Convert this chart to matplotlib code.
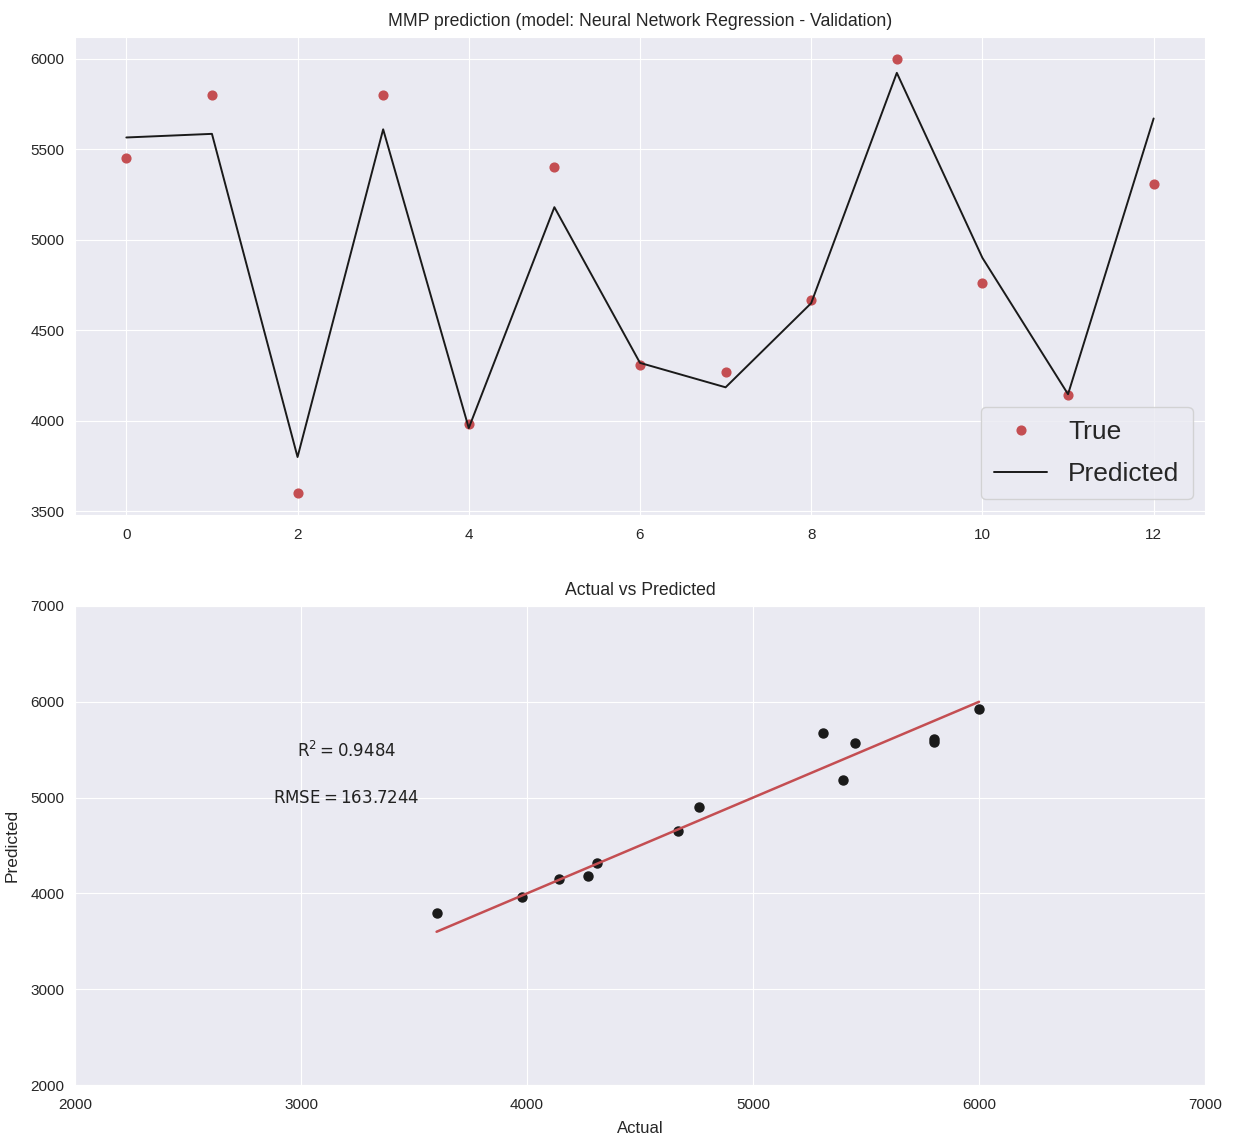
import numpy as np
import matplotlib
matplotlib.use("Agg")
import matplotlib.pyplot as plt
import seaborn as sns

# =========================
# DATOS
# =========================

sample_idx = list(range(13))
true_mmp = [5450, 5800, 3600, 5800, 3980, 5400, 4310, 4270, 4670, 6000, 4760, 4140, 5310]
pred_mmp = [5565, 5585, 3800, 5610, 3960, 5180, 4320, 4185, 4650, 5922, 4900, 4147, 5670]

r2_text = r"$\mathrm{R^2 = 0.9484}$"
rmse_text = r"$\mathrm{RMSE = 163.7244}$"

# =========================
# ESTILO
# =========================

sns.set_style("darkgrid")
plt.rcParams["font.family"] = ["Liberation Sans", "DejaVu Sans"]
plt.rcParams["xtick.labelsize"] = 11
plt.rcParams["ytick.labelsize"] = 11
plt.rcParams["xtick.major.pad"] = 6
plt.rcParams["ytick.major.pad"] = 4
red = (0.769, 0.306, 0.322)
black = (0.1, 0.1, 0.1)

fig = plt.figure(figsize=(12.33, 11.35), dpi=100)
ax1 = fig.add_axes([0.0608, 0.5463, 0.9165, 0.4211])
ax2 = fig.add_axes([0.0608, 0.0440, 0.9165, 0.4221])

# =========================
# SERIE
# =========================

ax1.plot(sample_idx, true_mmp, "o", color=red, markersize=6.3, label="True")
ax1.plot(sample_idx, pred_mmp, "-", color=black, linewidth=1.4, label="Predicted")
ax1.set_title("MMP prediction (model: Neural Network Regression - Validation)",
              fontsize=12.7, pad=8)
ax1.set_yticks([3500, 4000, 4500, 5000, 5500, 6000])
ax1.legend(loc="lower right", bbox_to_anchor=(1.003, 0.0), fontsize=19,
           frameon=True, borderpad=0.5, labelspacing=0.68, borderaxespad=0.6)

# =========================
# ACTUAL VS PREDICHO
# =========================

ax2.plot(true_mmp, pred_mmp, "o", color=black, markersize=6.5)
lo, hi = min(true_mmp), max(true_mmp)
ax2.plot([lo, hi], [lo, hi], "-", color=red, linewidth=1.8)
ax2.set_xlim(2000, 7000)
ax2.set_ylim(2000, 7000)
ax2.text(3200, 5500, r2_text, ha="center", va="center", fontsize=12, color="#222222")
ax2.text(3200, 5000, rmse_text, ha="center", va="center", fontsize=12, color="#222222")
ax2.set_title("Actual vs Predicted", fontsize=12.7, pad=8)
ax2.set_xlabel("Actual", fontsize=12, labelpad=6)
ax2.set_ylabel("Predicted", fontsize=12.5, labelpad=8)

fig.savefig("out.png", dpi=100)
